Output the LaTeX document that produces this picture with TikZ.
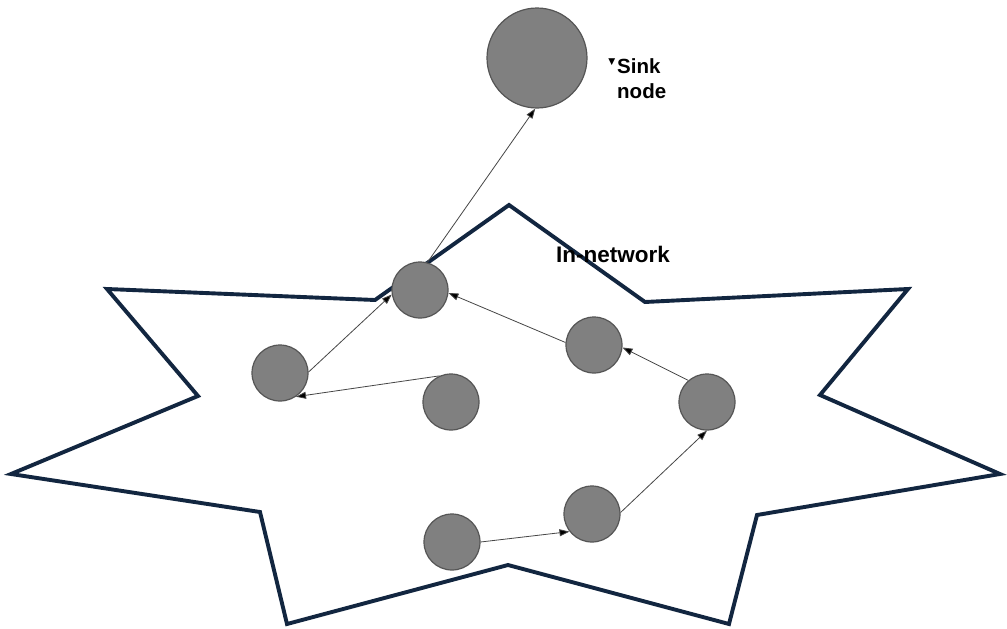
\documentclass[tikz,border=0pt]{standalone}
\usepackage{fontspec}
\setmainfont{Liberation Sans}
\newfontfamily\symfam{DejaVu Sans}
\usetikzlibrary{arrows.meta}
\definecolor{starcol}{RGB}{18,38,64}
\definecolor{nodefill}{RGB}{128,128,128}
\definecolor{nodeline}{RGB}{85,85,85}
\definecolor{arrcol}{RGB}{70,70,70}
\tikzset{
  starline/.style={draw=starcol, line width=3.9pt, line join=miter},
  sensor/.style={circle, fill=nodefill, draw=nodeline, line width=1.2pt, minimum size=56pt, inner sep=0pt},
  sinknode/.style={sensor, minimum size=100pt},
  arr/.style={draw=arrcol, line width=0.8pt, -{Triangle[length=10pt,width=7pt,fill=black]}},
  lbl/.style={font=\bfseries, text=black, inner sep=0pt}
}
\begin{document}
\begin{tikzpicture}[x=1pt,y=-1pt]
\useasboundingbox[fill=white] (0,0) rectangle (1007,629);
% star-shaped network region
\draw[starline] (509,205) -- (645,302) -- (908,289) -- (820,395) -- (1000,474)
  -- (757,515) -- (729,624) -- (508,565) -- (287,624) -- (260,512) -- (11,474)
  -- (198,396) -- (107,289) -- (375,300) -- cycle;
% label
\node[lbl, anchor=base west, font=\bfseries\fontsize{22.5}{22.5}\selectfont] (innet) at (556,262) {In-network};
% nodes
\node[sinknode] (sink) at (537,58) {};
\node[sensor] (n1) at (420,290) {};
\node[sensor] (n2) at (280,373) {};
\node[sensor] (n3) at (451,402) {};
\node[sensor] (n4) at (594,345) {};
\node[sensor] (n5) at (707,402) {};
\node[sensor] (n6) at (592,514) {};
\node[sensor] (n7) at (452,542) {};
% sink label
\node[lbl, anchor=base west, align=left, font=\bfseries\fontsize{20.5}{25}\selectfont] (sinklbl) at (617,98)
  {\llap{\raisebox{9pt}{\symfam\fontsize{9}{9}\selectfont ▼}\hspace{2pt}}Sink\\node};
% connectors
\draw[arr] (n1.75) -- (sink.-92);
\draw[arr] (n2.2) -- (n1.189);
\draw[arr] (n3.114) -- (n2.-56);
\draw[arr] (n4.175) -- (n1.-6);
\draw[arr] (n5.131) -- (n4.-5);
\draw[arr] (n6.3) -- (n5.-90);
\draw[arr] (n7.0) -- (n6.218);
\end{tikzpicture}
\end{document}
